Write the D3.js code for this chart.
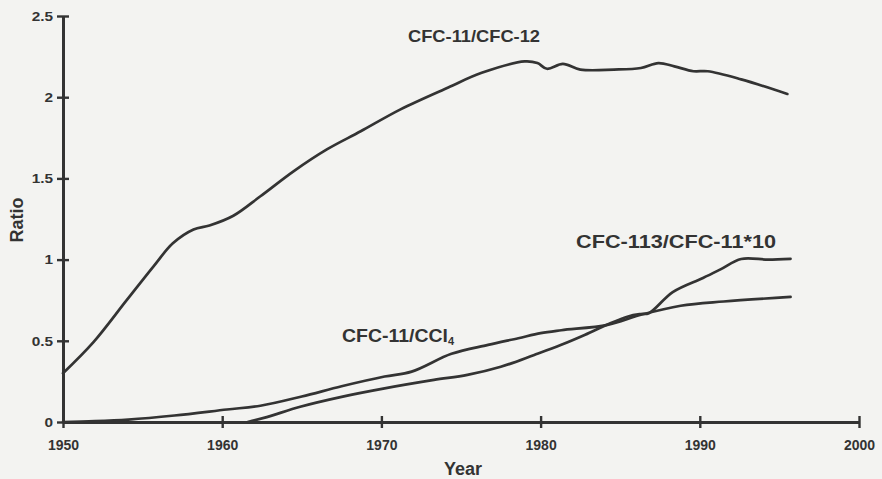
<!DOCTYPE html>
<html>
<head>
<meta charset="utf-8">
<script src="https://cdn.jsdelivr.net/npm/d3@7/dist/d3.min.js"></script>
<style>
  html, body { margin: 0; padding: 0; background: #f3f3f1; }
  svg { display: block; }
  text { font-family: "Liberation Sans", Arial, Helvetica, sans-serif; font-weight: bold; fill: #333; }
</style>
</head>
<body>
<svg id="chart" width="882" height="479"></svg>
<script>
// Ratio of CFC-11 to CFC-12
const cfc12Years = [1950, 1951.9, 1954.0, 1955.7, 1956.9, 1958.2, 1959.2, 1960.7, 1962.4, 1964.5,
  1966.6, 1968.7, 1971.2, 1974.2, 1976.3, 1979.0, 1979.8, 1980.4, 1981.4, 1982.5,
  1984.6, 1986.3, 1987.4, 1988.4, 1989.6, 1990.5, 1992.6, 1995.5];
const cfc12Ratio = [0.30, 0.49, 0.75, 0.96, 1.10, 1.185, 1.21, 1.27, 1.39, 1.545,
  1.68, 1.79, 1.925, 2.06, 2.15, 2.22, 2.21, 2.175, 2.205, 2.17,
  2.17, 2.18, 2.21, 2.19, 2.16, 2.16, 2.11, 2.02];

// Ratio of CFC-11 to carbon tetrachloride
const ccl4Years = [1950, 1952, 1954.1, 1957, 1960.3, 1962.4, 1965, 1967.5, 1970.2, 1971.9,
  1974.4, 1976.7, 1978.6, 1980.0, 1981.3, 1984.2, 1986.3, 1988.8, 1991.5, 1995.7];
const ccl4Ratio = [0.0, 0.005, 0.015, 0.04, 0.077, 0.10, 0.157, 0.22, 0.28, 0.31,
  0.42, 0.475, 0.516, 0.547, 0.565, 0.598, 0.66, 0.716, 0.742, 0.77];

// Ratio of CFC-113 to CFC-11, multiplied by ten
const cfc113Years = [1961.6, 1962.8, 1964.9, 1967.5, 1970.2, 1973.3, 1975.4, 1977.5, 1979.6, 1981.3,
  1982.8, 1984.2, 1985.5, 1986.3, 1986.8, 1988.3, 1990.2, 1991.3, 1992.6, 1994.3, 1995.7];
const cfc113Ratio = [0.0, 0.03, 0.094, 0.155, 0.207, 0.259, 0.29, 0.34, 0.413, 0.475,
  0.537, 0.60, 0.65, 0.665, 0.67, 0.80, 0.887, 0.94, 1.004, 1.0, 1.005];

const xTicks = [1950, 1960, 1970, 1980, 1990, 2000];
const yTicks = [0, 0.5, 1, 1.5, 2, 2.5];
const yTickLabels = ["0", "0.5", "1", "1.5", "2", "2.5"];

const svg = d3.select("#chart");
const ink = "#333";

const x = d3.scaleLinear().domain([1950, 2000]).range([63, 859]);
const y = d3.scaleLinear().domain([0, 2.5]).range([422, 16]);

// Axes with tick marks crossing the axis line
const xAxis = svg.append("g").attr("transform", `translate(0,${y(0)})`)
  .call(d3.axisBottom(x).tickValues(xTicks).tickSizeInner(0).tickSizeOuter(0).tickFormat(""));
xAxis.select(".domain").attr("stroke", ink).attr("stroke-width", 3);
xAxis.selectAll(".tick line").remove();
xAxis.selectAll(".tick").append("line")
  .attr("x1", 0).attr("x2", 0).attr("y1", -6).attr("y2", 6)
  .attr("stroke", ink).attr("stroke-width", 2.4);
xAxis.selectAll(".tick").append("text")
  .attr("y", 28).attr("text-anchor", "middle")
  .style("font-size", "14px").text(d => d);

const yAxis = svg.append("g").attr("transform", `translate(${x(1950)},0)`)
  .call(d3.axisLeft(y).tickValues(yTicks).tickSizeInner(0).tickSizeOuter(0).tickFormat(""));
yAxis.select(".domain").attr("stroke", ink).attr("stroke-width", 3);
yAxis.selectAll(".tick line").remove();
yAxis.selectAll(".tick").append("line")
  .attr("x1", -6).attr("x2", 6).attr("y1", 0).attr("y2", 0)
  .attr("stroke", ink).attr("stroke-width", 2.4);
yAxis.selectAll(".tick").append("text")
  .attr("transform", "translate(-10,0) scale(1.28,1)")
  .attr("dy", "0.36em").attr("text-anchor", "end")
  .style("font-size", "12px").text((d, i) => yTickLabels[i]);

// Axis titles
svg.append("text").attr("x", 463).attr("y", 475).attr("text-anchor", "middle")
  .style("font-size", "18px").text("Year");
svg.append("text").attr("transform", "translate(23,220) rotate(-90)")
  .attr("text-anchor", "middle").style("font-size", "18px").text("Ratio");

// Curves
const line = d3.line().x(d => x(d[0])).y(d => y(d[1])).curve(d3.curveCatmullRom.alpha(0.5));
const series = [
  [cfc12Years, cfc12Ratio],
  [ccl4Years, ccl4Ratio],
  [cfc113Years, cfc113Ratio]
];
series.forEach(([yrs, vals]) => {
  svg.append("path")
    .datum(d3.zip(yrs, vals))
    .attr("fill", "none").attr("stroke", ink)
    .attr("stroke-width", 2.7).attr("stroke-linejoin", "round").attr("stroke-linecap", "round")
    .attr("d", line);
});

// Series labels
svg.append("text").attr("x", 408).attr("y", 42)
  .style("font-size", "17px")
  .attr("textLength", 132).attr("lengthAdjust", "spacingAndGlyphs")
  .text("CFC-11/CFC-12");

svg.append("text").attr("x", 576).attr("y", 248)
  .style("font-size", "18px")
  .attr("textLength", 200).attr("lengthAdjust", "spacingAndGlyphs")
  .text("CFC-113/CFC-11*10");

const ccl4Label = svg.append("text").attr("x", 342).attr("y", 342).style("font-size", "18px");
ccl4Label.append("tspan").attr("textLength", 106).attr("lengthAdjust", "spacingAndGlyphs").text("CFC-11/CCl");
ccl4Label.append("tspan").attr("dy", 3).style("font-size", "11px").text("4");
</script>
</body>
</html>
